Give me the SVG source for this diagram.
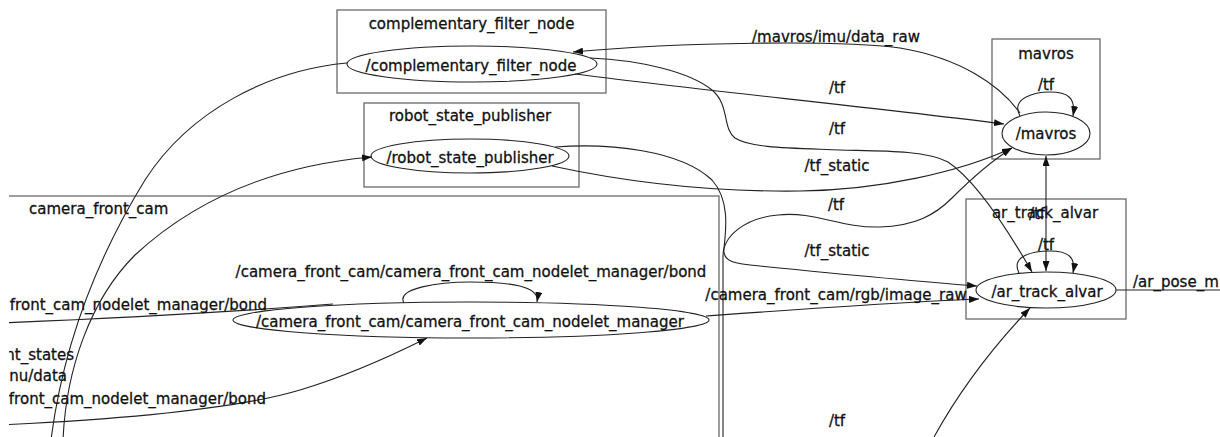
<svg xmlns="http://www.w3.org/2000/svg" width="1220" height="437" viewBox="0 0 1220 437">
<style>
text{font-family:"DejaVu Sans","Liberation Sans",sans-serif;font-size:15px;fill:#111;stroke:#111;stroke-width:0.3}
.m{text-anchor:middle}
.e{text-anchor:end}
.box{fill:none;stroke:#6a6a6a;stroke-width:1.3}
.node{fill:none;stroke:#222;stroke-width:1.1}
.edge{fill:none;stroke:#222;stroke-width:1.1}
.arr{marker-end:url(#ah)}
</style>
<defs>
<marker id="ah" viewBox="0 0 10 7" refX="10" refY="3.5" markerWidth="10" markerHeight="7" orient="auto-start-reverse" markerUnits="userSpaceOnUse"><path d="M0,0 L10,3.5 L0,7 z" fill="#111"/></marker>
<clipPath id="vc"><rect x="9" y="0" width="1211" height="437"/></clipPath>
</defs>
<rect width="1220" height="437" fill="#fff"/>
<g clip-path="url(#vc)">
<g id="cluster-camera_front_cam">
<rect class="box" x="-20" y="196" width="739" height="300"/>
<text x="29" y="214">camera_front_cam</text>
</g>
<g id="cluster-complementary_filter_node">
<rect class="box" x="337" y="10" width="269" height="83"/>
<text class="m" x="471.5" y="29">complementary_filter_node</text>
</g>
<g id="cluster-robot_state_publisher">
<rect class="box" x="364" y="103" width="215" height="84"/>
<text class="m" x="470" y="121">robot_state_publisher</text>
</g>
<g id="cluster-mavros">
<rect class="box" x="992" y="39" width="108" height="120"/>
<text class="m" x="1046" y="59">mavros</text>
</g>
<g id="cluster-ar_track_alvar">
<rect class="box" x="966" y="199" width="160" height="120"/>
<text class="m" x="1045" y="218">ar_track_alvar</text>
</g>
<g id="node-complementary_filter_node">
<ellipse class="node" cx="472" cy="64" rx="125" ry="18"/>
<text class="m" x="471" y="71">/complementary_filter_node</text>
</g>
<g id="node-robot_state_publisher">
<ellipse class="node" cx="470" cy="156" rx="99" ry="17"/>
<text class="m" x="470" y="163">/robot_state_publisher</text>
</g>
<g id="node-mavros">
<ellipse class="node" cx="1046" cy="133.5" rx="44" ry="21.5"/>
<text class="m" x="1046" y="139">/mavros</text>
</g>
<g id="node-ar_track_alvar">
<ellipse class="node" cx="1046" cy="290" rx="70" ry="18"/>
<text class="m" x="1047" y="297">/ar_track_alvar</text>
</g>
<g id="node-nodelet_manager">
<ellipse class="node" cx="471" cy="320" rx="238" ry="18"/>
<text class="m" x="470" y="327">/camera_front_cam/camera_front_cam_nodelet_manager</text>
</g>
<g id="connectors">
<path class="edge arr" d="M1020,113 C1000,85 960,58 900,48 C840,40 680,42 573,52"/>
<text class="m" x="836" y="42">/mavros/imu/data_raw</text>
<path class="edge arr" d="M575,74 C680,88 880,108 1004,124"/>
<text class="m" x="837" y="93">/tf</text>
<path class="edge arr" d="M590,58 C640,60 690,72 712,90 C730,105 722,128 735,138 C750,148 790,148 840,150 C880,151 925,150 948,162 C975,180 1005,225 1032,272"/>
<text class="m" x="837" y="134">/tf</text>
<path class="edge arr" d="M552,166 C640,185 720,192 800,191 C880,190 960,172 1012,148"/>
<text class="m" x="837" y="171">/tf_static</text>
<path class="edge arr" d="M723,437 L723,256 C723,236 745,218 778,215 C815,211 840,228 880,227 C915,226 935,215 952,198 C970,180 990,162 1012,148"/>
<text class="m" x="836" y="210">/tf</text>
<path class="edge arr" d="M555,147 C610,143 680,150 712,180 C730,200 726,230 724,248 C722,262 735,264 760,266 C820,272 900,280 977,286"/>
<text class="m" x="837" y="256">/tf_static</text>
<path class="edge arr" d="M706,316 C790,310 900,302 979,299"/>
<text class="m" x="836" y="300">/camera_front_cam/rgb/image_raw</text>
<path class="edge arr" d="M934,437 C960,390 990,350 1030,308"/>
<text class="m" x="837" y="426">/tf</text>
<path class="edge" d="M1116,290 L1225,290"/>
<text x="1133" y="287">/ar_pose_m</text>
<path class="edge arr" d="M1020,116 C1010,98 1035,92 1050,92 C1068,92 1076,98 1073,116"/>
<text class="m" x="1046" y="90">/tf</text>
<path class="edge arr" d="M1019,273 C1010,255 1035,251 1050,251 C1068,251 1076,257 1073,273"/>
<text class="m" x="1046" y="250">/tf</text>
<path class="edge" d="M1046,156 L1046,271" marker-start="url(#ah)" marker-end="url(#ah)"/>
<text class="m" x="1037" y="219">/tf</text>
<path class="edge arr" d="M404,303 C395,288 440,282 470,282 C510,282 540,286 537,302"/>
<text class="m" x="471" y="277">/camera_front_cam/camera_front_cam_nodelet_manager/bond</text>
<path class="edge" d="M0,323 C100,319 220,313 333,304"/>
<text class="e" x="267" y="310">front_cam_nodelet_manager/bond</text>
<path class="edge arr" d="M0,425 C150,418 250,405 300,390 C350,375 395,354 427,338"/>
<text class="e" x="266" y="404">front_cam_nodelet_manager/bond</text>
<text class="e" x="74" y="360">nt_states</text>
<text class="e" x="67" y="381">nu/data</text>
<path class="edge" d="M347,63 C270,70 190,110 145,180 C105,245 65,330 51,440"/>
<path class="edge arr" d="M63,440 C66,370 90,300 135,255 C200,195 280,165 372,157"/>
</g>
</g>
</svg>
